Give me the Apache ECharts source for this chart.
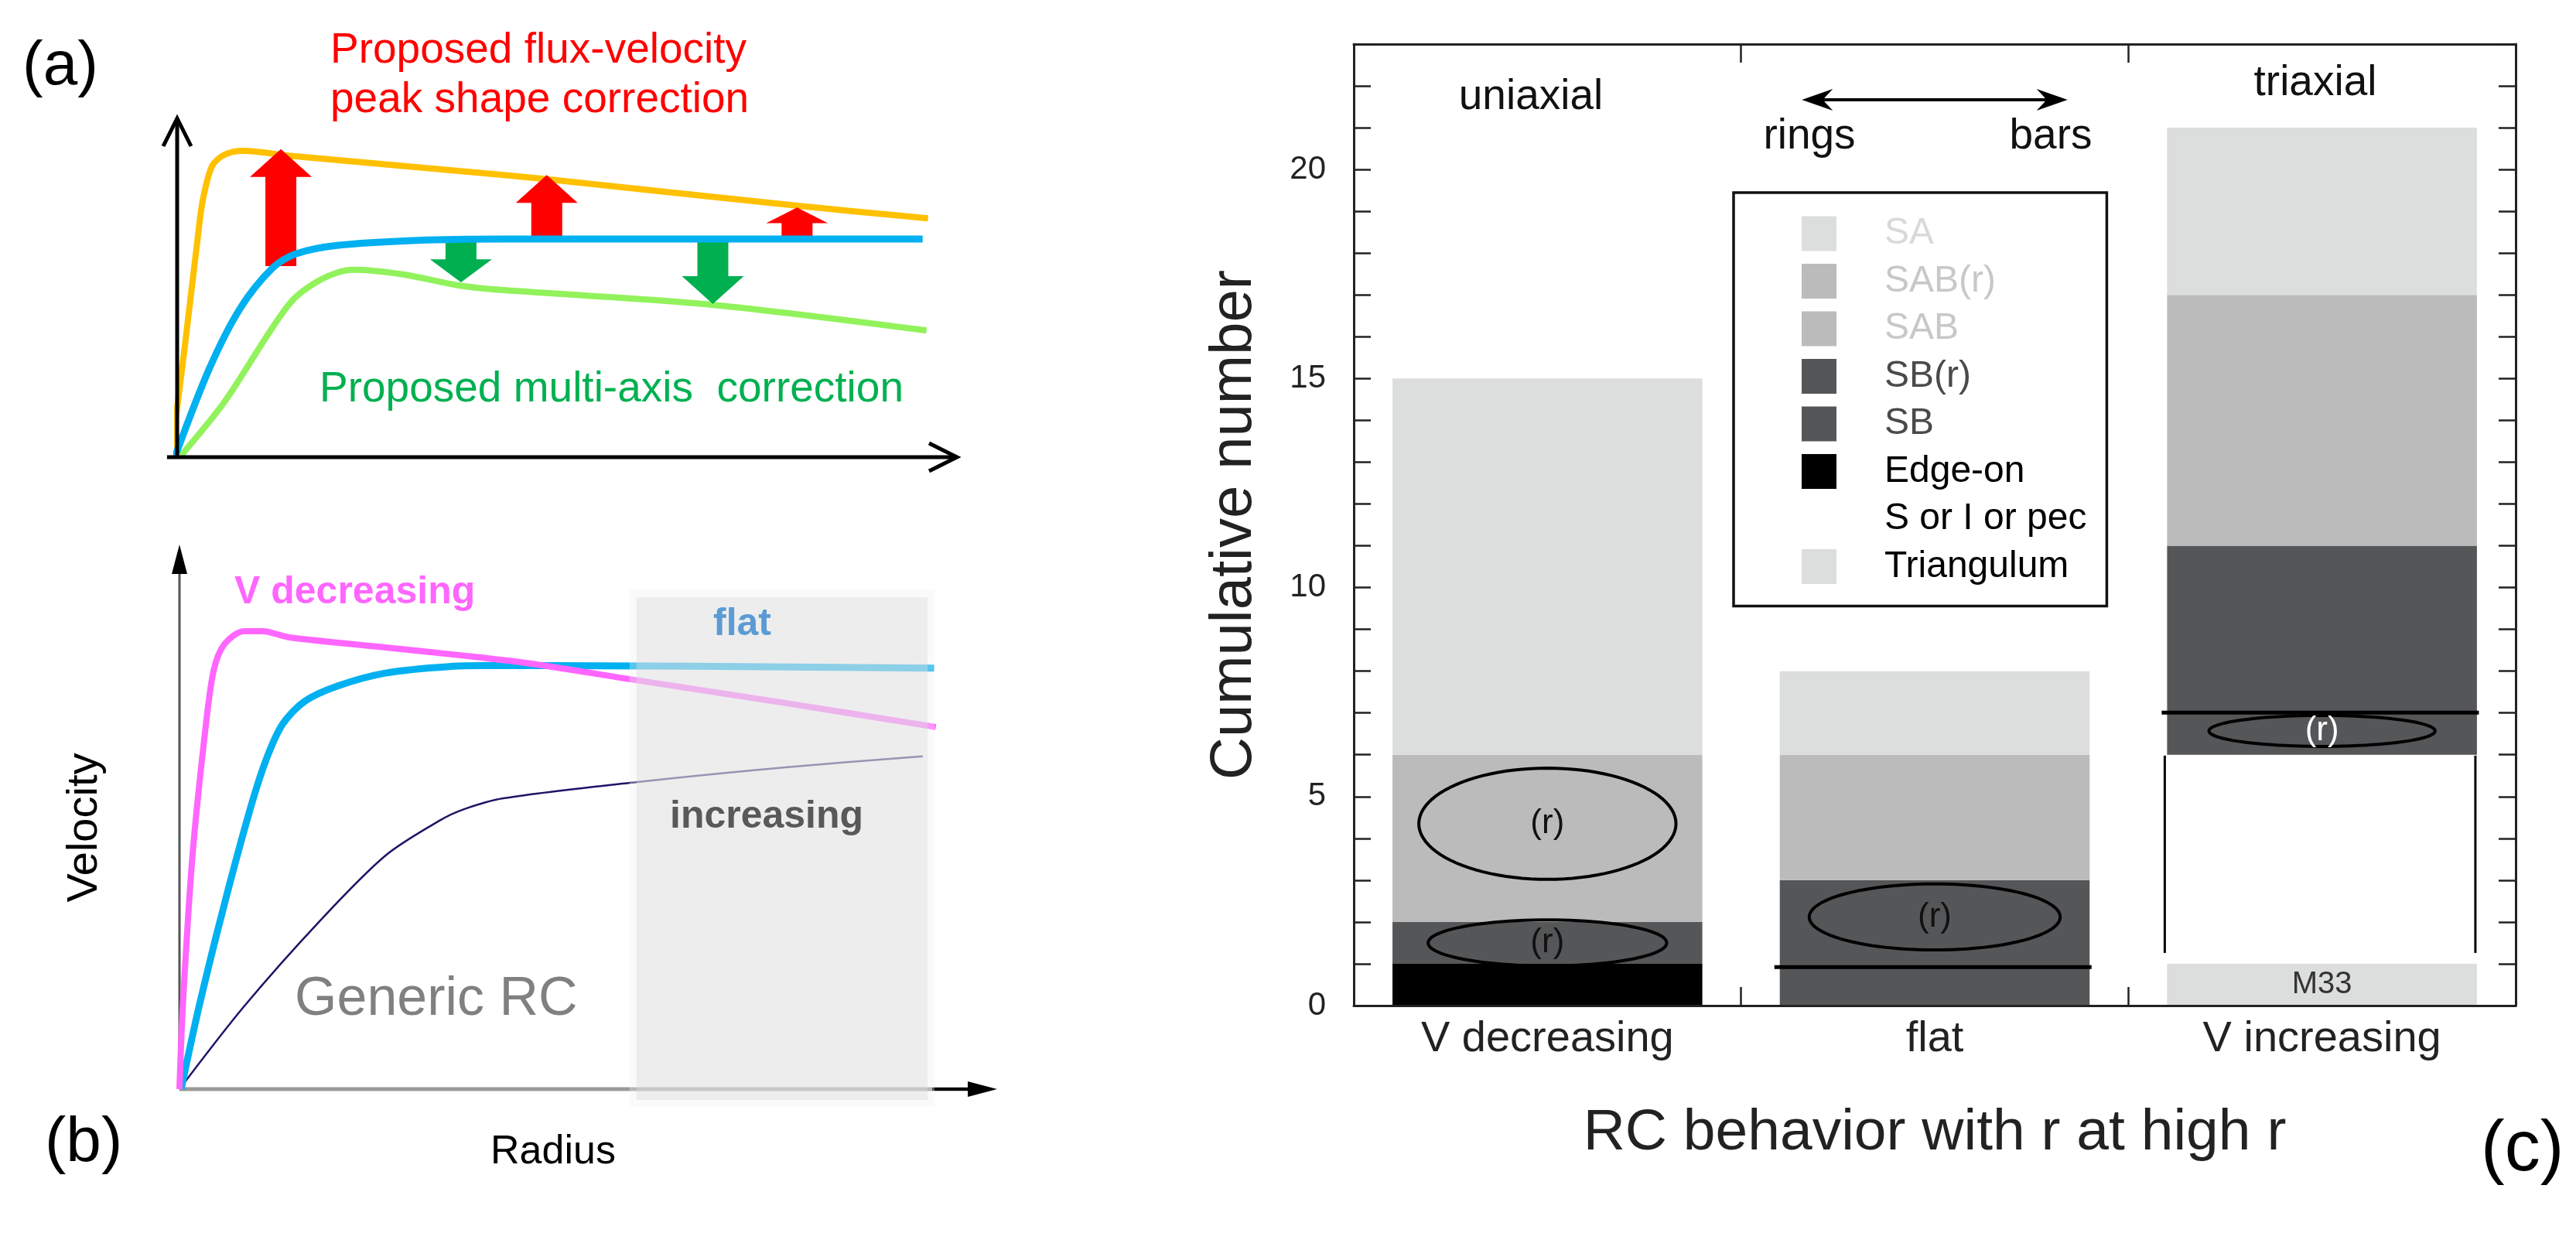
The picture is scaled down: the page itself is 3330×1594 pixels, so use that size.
<!DOCTYPE html>
<html><head><meta charset="utf-8">
<script src="https://cdn.jsdelivr.net/npm/echarts/dist/echarts.min.js"></script>
<style>html,body{margin:0;padding:0;background:#fff}#chart{width:3330px;height:1594px}</style>
</head><body><div id="chart"></div>
<script>
// ---------------- Panel (a): schematic rotation curves ----------------
const aPeakCorrected = [[-0.8,0],[1.0,33],[2.6,64],[3.3,76],[4.5,86],[6.1,89.3],[8.5,90.4],[14.3,89.0],[41.9,83.3],[47.5,82.0],[79.6,74.2],[96.3,70.5]];
const aObserved = [[-0.3,0],[4.1,26],[8.1,44],[12.3,56],[15.2,60],[20.5,62.5],[30.8,64.0],[41.9,64.4],[95.6,64.4]];
const aMultiAxis = [[0.5,0.5],[6.1,16.4],[14.3,45],[18.5,52.5],[22.5,55.3],[28.8,54],[36.1,50.7],[41.9,49.3],[68.5,45.0],[96.1,37.4]];
const aUpArrows = [[13.3,56.4,90.9],[47.4,65.3,83.3],[79.5,65.3,73.7]];
const aDownArrows = [[36.4,63.9,51.6],[68.7,63.5,45.2]];
const aAxes = [[0,0,0,100],[-1.3,0,100,0]];

// ---------------- Panel (b): generic RC shapes ----------------
const bDecreasing = [[0,0],[0.4,15],[1.6,43],[3.2,66.5],[4.2,77],[5.5,81.7],[7.9,84.1],[10.2,84.1],[13.3,83],[25.2,81.1],[34.8,79.6],[42.7,78.2],[55,75.3],[74.1,70.9],[92.5,66.5]];
const bFlat = [[0.2,0],[2.4,15.2],[5.5,34],[8.7,51.7],[10.6,60.5],[12.6,67],[15.3,71.2],[19.3,74],[25.2,76.4],[33,77.6],[39.6,77.8],[92.3,77.3]];
const bIncreasing = [[0,0],[7.9,15.2],[17.3,31.1],[25.2,42.9],[31.8,49.3],[34.8,51.4],[39.6,53.4],[56,56.4],[74.1,59.1],[90.9,61.1]];
const bRegion = [[55.9,-2,91.5,90.3]];
const bAxes = [[0,0,0,100],[0,0,100,0]];

// ---------------- Panel (c): cumulative numbers ----------------
const categories = ['V decreasing','flat','V increasing'];
const triangulum = [0,0,1];
const sOrIOrPec = [0,0,5];
const edgeOn = [1,0,0];
const sb = [0,1,5];
const sbRinged = [1,2,0];
const sab = [0,3,6];
const sabRinged = [4,0,0];
const sa = [9,2,4];
const yTickLabels = [0,5,10,15,20];
const legendOrder = ['SA','SAB(r)','SAB','SB(r)','SB','Edge-on','S or I or pec','Triangulum'];
const ringMarks = [[0,4.35,1.33,0.83],[0,1.5,0.55,0.77],[1,2.12,0.79,0.81],[2,6.57,0.37,0.73]];
const barSplits = [[1,0.92],[2,7.01]];
const pecBracket = [[2,1.26,5.98]];
const ringsBarsArrow = [[1,21.67]];

const FONT = "'Liberation Sans', Arial, Helvetica, sans-serif";
const chart = echarts.init(document.getElementById('chart'), null, {renderer:'canvas', width:3330, height:1594});

function blockArrow(color){
  return function(params, api){
    const x = api.value(0), y0 = api.value(1), y1 = api.value(2);
    const b = api.coord([x,y0]), t = api.coord([x,y1]);
    const d = t[1] < b[1] ? -1 : 1;
    const len = Math.abs(t[1]-b[1]);
    const hl = Math.min(36, len*0.55), sw = 20, hw = 40;
    const yh = t[1] - d*hl;
    return {type:'polygon', shape:{points:[[b[0]-sw,b[1]],[b[0]-sw,yh],[b[0]-hw,yh],[t[0],t[1]],[b[0]+hw,yh],[b[0]+sw,yh],[b[0]+sw,b[1]]]}, style:{fill:color}};
  };
}
function unitVec(p0,p1){const dx=p1[0]-p0[0],dy=p1[1]-p0[1];const L=Math.hypot(dx,dy);return [dx/L,dy/L];}

function renderAxesA(params, api){
  const p0 = api.coord([api.value(0),api.value(1)]), p1 = api.coord([api.value(2),api.value(3)]);
  const u = unitVec(p0,p1), n = [-u[1],u[0]];
  const L = 36, W = 18;
  const a1 = [p1[0]-u[0]*L+n[0]*W, p1[1]-u[1]*L+n[1]*W];
  const a2 = [p1[0]-u[0]*L-n[0]*W, p1[1]-u[1]*L-n[1]*W];
  return {type:'group', children:[
    {type:'line', shape:{x1:p0[0],y1:p0[1],x2:p1[0],y2:p1[1]}, style:{stroke:'#000',lineWidth:5}},
    {type:'polyline', shape:{points:[a1,p1,a2]}, style:{stroke:'#000',lineWidth:5,fill:null,lineJoin:'miter'}}
  ]};
}
const bAxisStroke = ['#555','#9a9a9a'], bAxisWidth = [3,5];
function renderAxesB(params, api){
  const i = params.dataIndex;
  const p0 = api.coord([api.value(0),api.value(1)]), p1 = api.coord([api.value(2),api.value(3)]);
  const u = unitVec(p0,p1), n = [-u[1],u[0]];
  const L = 38, W = 10;
  const base = [p1[0]-u[0]*L, p1[1]-u[1]*L];
  const kids = [
    {type:'line', shape:{x1:p0[0],y1:p0[1],x2:base[0],y2:base[1]}, style:{stroke:bAxisStroke[i],lineWidth:bAxisWidth[i]}},
    {type:'polygon', shape:{points:[p1,[base[0]+n[0]*W,base[1]+n[1]*W],[base[0]-n[0]*W,base[1]-n[1]*W]]}, style:{fill:'#000'}}
  ];
  if(i===1){
    const s = [base[0]-u[0]*46, base[1]-u[1]*46];
    kids.push({type:'line', shape:{x1:s[0],y1:s[1],x2:base[0],y2:base[1]}, style:{stroke:'#000',lineWidth:4}});
  }
  return {type:'group', children:kids};
}
function renderRegion(params, api){
  const p0 = api.coord([api.value(0),api.value(1)]), p1 = api.coord([api.value(2),api.value(3)]);
  const x=Math.min(p0[0],p1[0]), y=Math.min(p0[1],p1[1]), w=Math.abs(p1[0]-p0[0]), h=Math.abs(p1[1]-p0[1]);
  return {type:'group', children:[
    {type:'rect', shape:{x:x-9,y:y-10,width:w+18,height:h+18}, style:{fill:'rgba(240,240,240,0.35)'}},
    {type:'rect', shape:{x,y,width:w,height:h}, style:{fill:'rgba(219,219,219,0.42)'}}
  ]};
}
const ringLabelColors = ['#111','#111','#111','#fff'];
function renderRings(params, api){
  const cat = api.value(0), cy = api.value(1), hh = api.value(2), wf = api.value(3);
  const c = api.coord([cat,cy]), top = api.coord([cat,cy+hh]);
  const band = api.size([1,0])[0];
  const rx = band*0.8*wf/2, ry = c[1]-top[1];
  const pts = [];
  for(let k=0;k<96;k++){const t=k/96*Math.PI*2; pts.push([c[0]+rx*Math.cos(t), c[1]+ry*Math.sin(t)]);}
  return {type:'group', children:[
    {type:'polygon', shape:{points:pts}, style:{fill:null, stroke:'#000', lineWidth:4}},
    {type:'text', x:c[0], y:c[1], style:{text:'(r)', fill:ringLabelColors[params.dataIndex], fontSize:44, fontFamily:FONT, align:'center', verticalAlign:'middle'}}
  ]};
}
function renderSplits(params, api){
  const c = api.coord([api.value(0), api.value(1)]);
  const band = api.size([1,0])[0];
  return {type:'line', shape:{x1:c[0]-0.414*band, y1:c[1], x2:c[0]+0.405*band, y2:c[1]}, style:{stroke:'#000', lineWidth:5}};
}
function renderBracket(params, api){
  const a = api.coord([api.value(0), api.value(1)]), b = api.coord([api.value(0), api.value(2)]);
  const band = api.size([1,0])[0];
  const xl = a[0]-0.406*band, xr = a[0]+0.396*band;
  return {type:'group', children:[
    {type:'line', shape:{x1:xl,y1:a[1],x2:xl,y2:b[1]}, style:{stroke:'#000',lineWidth:3}},
    {type:'line', shape:{x1:xr,y1:a[1],x2:xr,y2:b[1]}, style:{stroke:'#000',lineWidth:3}}
  ]};
}
function renderDoubleArrow(params, api){
  const c = api.coord([api.value(0), api.value(1)]);
  const band = api.size([1,0])[0];
  const xl = c[0]-0.343*band, xr = c[0]+0.343*band, y = c[1];
  const L = 40, H = 14, N = 9;
  return {type:'group', children:[
    {type:'line', shape:{x1:xl+N,y1:y,x2:xr-N,y2:y}, style:{stroke:'#000',lineWidth:4}},
    {type:'polygon', shape:{points:[[xl,y],[xl+L,y-H],[xl+L-N-4,y],[xl+L,y+H]]}, style:{fill:'#000'}},
    {type:'polygon', shape:{points:[[xr,y],[xr-L,y-H],[xr-L+N+4,y],[xr-L,y+H]]}, style:{fill:'#000'}}
  ]};
}

function T(text, x, y, size, color, o){
  o = o || {};
  return {type:'text', x:x, y:y, rotation:o.rot||0, z:100,
    style:{text:text, fill:color, fontSize:size, fontFamily:FONT, fontWeight:o.weight||'normal',
      align:o.align||'left', verticalAlign:'middle', textAlign:o.align||'left', textVerticalAlign:'middle'}};
}

const colorsC = {'Triangulum':'#DCDDDD','S or I or pec':'#FFFFFF','Edge-on':'#000000','SB':'#555658','SB(r)':'#555658','SAB':'#BBBBBB','SAB(r)':'#BBBBBB','SA':'#DCDDDD'};
const legendTextColors = {'SA':'#D9D9D9','SAB(r)':'#C8C8C8','SAB':'#C8C8C8','SB(r)':'#4A4A4A','SB':'#4A4A4A','Edge-on':'#000','S or I or pec':'#000','Triangulum':'#000'};
const stackSeries = [['Triangulum',triangulum],['S or I or pec',sOrIOrPec],['Edge-on',edgeOn],['SB',sb],['SB(r)',sbRinged],['SAB',sab],['SAB(r)',sabRinged],['SA',sa]];

const axLine = {show:true, onZero:false, lineStyle:{color:'#222',width:3}};
const option = {
  animation:false,
  backgroundColor:'#fff',
  textStyle:{fontFamily:FONT},
  grid:[
    {left:229, top:153, width:1008, height:438, outerBoundsMode:'none'},
    {left:232, top:704, width:1057, height:704, outerBoundsMode:'none'},
    {left:1750, top:57, width:1502, height:1243, outerBoundsMode:'none'}
  ],
  xAxis:[
    {gridIndex:0, type:'value', min:0, max:100, show:false},
    {gridIndex:1, type:'value', min:0, max:100, show:false},
    {gridIndex:2, type:'category', data:categories, position:'bottom', z:10, axisLine:axLine,
      axisTick:{show:true, inside:true, length:24, lineStyle:{color:'#222',width:2.5}},
      axisLabel:{fontSize:56, color:'#222', margin:16, fontFamily:FONT},
      splitLine:{show:false},
      name:'RC behavior with r at high r', nameLocation:'middle', nameGap:128,
      nameTextStyle:{fontSize:75, color:'#222', fontFamily:FONT}},
    {gridIndex:2, type:'category', data:categories, position:'top', z:10, axisLine:axLine,
      axisTick:{show:true, inside:true, length:24, lineStyle:{color:'#222',width:2.5}},
      axisLabel:{show:false}, splitLine:{show:false}}
  ],
  yAxis:[
    {gridIndex:0, type:'value', min:0, max:100, show:false},
    {gridIndex:1, type:'value', min:0, max:100, show:false},
    {gridIndex:2, type:'value', min:0, max:23, interval:5, position:'left', z:10, axisLine:axLine,
      axisTick:{show:true, inside:true, length:22, lineStyle:{color:'#222',width:2.5}},
      minorTick:{show:true, splitNumber:5, length:22, lineStyle:{color:'#222',width:2.5}},
      axisLabel:{fontSize:42, color:'#222', margin:36, fontFamily:FONT, showMaxLabel:false,
        formatter:function(v){return yTickLabels.indexOf(v)>=0 ? String(v) : '';}},
      splitLine:{show:false}, minorSplitLine:{show:false},
      name:'Cumulative number', nameLocation:'middle', nameGap:116, nameRotate:90,
      nameTextStyle:{fontSize:76, color:'#222', fontFamily:FONT}},
    {gridIndex:2, type:'value', min:0, max:23, interval:5, position:'right', z:10, axisLine:axLine,
      axisTick:{show:true, inside:true, length:22, lineStyle:{color:'#222',width:2.5}},
      minorTick:{show:true, splitNumber:5, length:22, lineStyle:{color:'#222',width:2.5}},
      axisLabel:{show:false}, splitLine:{show:false}, minorSplitLine:{show:false}}
  ],
  legend:{
    orient:'vertical', left:2241, top:249, padding:[29,26,27,88],
    itemWidth:45, itemHeight:45, itemGap:13.5, icon:'rect', selectedMode:false,
    borderColor:'#111', borderWidth:3.5, backgroundColor:'transparent',
    itemStyle:{borderWidth:0},
    textStyle:{fontSize:48, lineHeight:45, padding:[0,0,0,57], fontFamily:FONT},
    data:legendOrder.map(function(n){return {name:n, textStyle:{color:legendTextColors[n]}};})
  },
  graphic:[
    T('(a)', 29, 87, 80, '#000'),
    T('Proposed flux-velocity', 427, 66, 55, '#FF0000'),
    T('peak shape correction', 427, 130, 55, '#FF0000'),
    T('Proposed multi-axis  correction', 413, 504, 55, '#00B050'),
    T('V decreasing', 303, 766, 50, '#FF66FF', {weight:'bold'}),
    T('flat', 922, 807, 50, '#5B9BD5', {weight:'bold'}),
    T('increasing', 866, 1056, 50, '#595959', {weight:'bold'}),
    T('Generic RC', 381, 1293, 70, '#808080'),
    T('Velocity', 110, 1070, 56, '#000', {align:'center', rot:Math.PI/2}),
    T('Radius', 715, 1490, 52, '#000', {align:'center'}),
    T('(b)', 58, 1478, 82, '#000'),
    T('(c)', 3207, 1488, 92, '#000'),
    T('uniaxial', 1979, 126, 55, '#111', {align:'center'}),
    T('triaxial', 2993, 108, 55, '#111', {align:'center'}),
    T('rings', 2339, 177, 55, '#111', {align:'center'}),
    T('bars', 2651, 177, 55, '#111', {align:'center'})
  ],
  series:[]
};

// panel a
option.series.push(
  {type:'line', xAxisIndex:0, yAxisIndex:0, data:aPeakCorrected, smooth:0.3, symbol:'none', clip:false, z:2, lineStyle:{color:'#FFC000', width:8}},
  {type:'line', xAxisIndex:0, yAxisIndex:0, data:aMultiAxis, smooth:0.3, symbol:'none', clip:false, z:2, lineStyle:{color:'#92F25C', width:8}},
  {type:'custom', xAxisIndex:0, yAxisIndex:0, data:aUpArrows, renderItem:blockArrow('#FF0000'), z:3, clip:false},
  {type:'custom', xAxisIndex:0, yAxisIndex:0, data:aDownArrows, renderItem:blockArrow('#00B050'), z:3, clip:false},
  {type:'line', xAxisIndex:0, yAxisIndex:0, data:aObserved, smooth:0.3, symbol:'none', clip:false, z:4, lineStyle:{color:'#00B0F0', width:9}},
  {type:'custom', xAxisIndex:0, yAxisIndex:0, data:aAxes, renderItem:renderAxesA, z:5, clip:false}
);
// panel b
option.series.push(
  {type:'line', xAxisIndex:1, yAxisIndex:1, data:bIncreasing, smooth:0.3, symbol:'none', clip:false, z:2, lineStyle:{color:'#1F1466', width:2.5}},
  {type:'line', xAxisIndex:1, yAxisIndex:1, data:bFlat, smooth:0.3, symbol:'none', clip:false, z:2, lineStyle:{color:'#00B0F0', width:9}},
  {type:'line', xAxisIndex:1, yAxisIndex:1, data:bDecreasing, smooth:0.3, symbol:'none', clip:false, z:2, lineStyle:{color:'#FF66FF', width:8}},
  {type:'custom', xAxisIndex:1, yAxisIndex:1, data:bAxes, renderItem:renderAxesB, z:2, clip:false},
  {type:'custom', xAxisIndex:1, yAxisIndex:1, data:bRegion, renderItem:renderRegion, z:3, clip:false}
);
// panel c
stackSeries.forEach(function(s){
  const ser = {type:'bar', name:s[0], xAxisIndex:2, yAxisIndex:2, stack:'c', data:s[1], barWidth:'80%', z:2,
    itemStyle:{color:colorsC[s[0]], borderWidth:0}, emphasis:{disabled:true}};
  if(s[0]==='Triangulum'){
    ser.label = {show:true, position:'inside', fontSize:40, color:'#333', fontFamily:FONT,
      formatter:function(p){return p.value>0 ? 'M33' : '';}};
  }
  option.series.push(ser);
});
option.series.push(
  {type:'custom', xAxisIndex:2, yAxisIndex:2, data:pecBracket, renderItem:renderBracket, z:5, clip:false},
  {type:'custom', xAxisIndex:2, yAxisIndex:2, data:barSplits, renderItem:renderSplits, z:5, clip:false},
  {type:'custom', xAxisIndex:2, yAxisIndex:2, data:ringMarks, renderItem:renderRings, z:5, clip:false},
  {type:'custom', xAxisIndex:2, yAxisIndex:2, data:ringsBarsArrow, renderItem:renderDoubleArrow, z:5, clip:false}
);
chart.setOption(option);
</script></body></html>
